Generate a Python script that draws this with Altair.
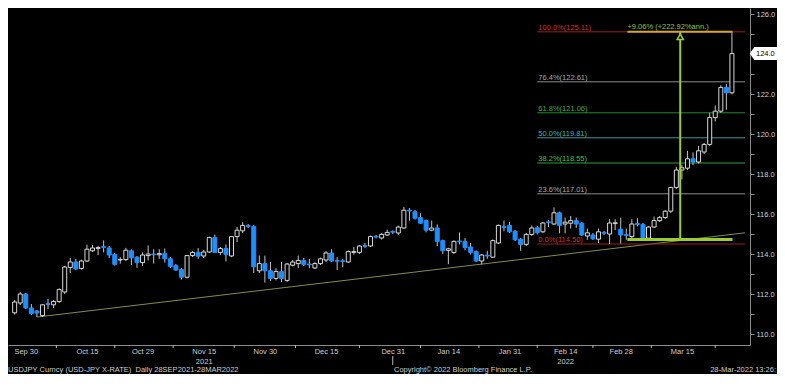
import altair as alt
import pandas as pd

# ---------------- data ----------------
opens = [111.06, 111.55, 112.00, 111.30, 111.15, 110.92, 111.52, 111.46, 111.62, 112.10,
         113.33, 113.60, 113.28, 113.65, 114.16, 114.28, 114.37, 114.30, 113.98, 113.70,
         113.72, 114.16, 113.84, 113.57, 113.92, 114.00, 113.96, 114.03, 113.76, 113.42,
         113.22, 112.84, 113.92, 114.08, 113.90, 114.10, 114.82, 114.08, 114.27, 113.90,
         114.87, 115.16, 115.42, 115.38, 113.16, 113.52, 113.16, 112.78, 113.12, 112.68,
         113.44, 113.52, 113.68, 113.50, 113.30, 113.52, 113.70, 114.05, 113.67, 113.66,
         113.60, 114.08, 114.08, 114.42, 114.40, 114.89, 114.80, 114.95, 115.13, 115.05,
         115.30, 116.19, 116.11, 115.82, 115.67, 115.19, 115.30, 114.67, 114.18, 114.08,
         114.65, 114.63, 114.35, 114.12, 113.65, 113.94, 113.84, 114.55, 115.37, 115.43,
         115.14, 114.74, 114.48, 114.98, 115.31, 115.11, 115.61, 115.50, 116.06, 115.50,
         115.54, 115.67, 115.54, 114.90, 114.95, 114.74, 115.08, 115.00, 115.52, 115.24,
         114.97, 114.87, 115.52, 115.48, 114.79, 115.35, 115.67, 115.82, 116.14, 117.33,
         118.20, 118.29, 118.76, 118.60, 119.10, 119.48, 120.82, 121.14, 122.33, 122.06]
highs = [111.70, 112.10, 112.05, 111.50, 111.20, 111.50, 111.75, 111.70, 112.28, 113.40,
         113.80, 113.75, 113.72, 114.47, 114.45, 114.40, 114.68, 114.40, 114.05, 113.84,
         114.31, 114.22, 113.90, 114.08, 114.43, 114.24, 114.24, 114.27, 113.85, 113.50,
         113.30, 113.95, 114.15, 114.30, 114.20, 114.87, 114.97, 114.35, 114.48, 114.90,
         115.35, 115.59, 115.50, 115.45, 113.92, 113.92, 113.60, 113.29, 113.60, 113.55,
         113.70, 113.92, 113.80, 113.76, 113.60, 113.82, 114.15, 114.24, 113.84, 113.76,
         114.18, 114.35, 114.45, 114.55, 114.92, 114.95, 115.05, 115.22, 115.18, 115.42,
         116.35, 116.30, 116.20, 116.03, 115.72, 115.67, 115.48, 114.72, 114.31, 114.68,
         115.08, 114.79, 114.55, 114.18, 114.00, 114.16, 114.72, 115.48, 115.67, 115.59,
         115.20, 114.80, 115.05, 115.43, 115.40, 115.60, 115.70, 116.33, 116.12, 115.82,
         115.90, 115.82, 115.60, 115.27, 115.05, 115.27, 115.15, 115.74, 115.74, 115.82,
         115.27, 115.74, 115.79, 115.55, 115.40, 115.87, 115.90, 116.20, 117.35, 118.36,
         118.44, 119.16, 119.08, 119.40, 119.55, 121.06, 121.43, 122.44, 122.49, 125.11]
lows = [110.97, 111.45, 111.25, 110.95, 110.85, 110.85, 111.25, 111.30, 111.55, 112.00,
        113.05, 113.20, 113.22, 113.60, 114.10, 113.95, 114.08, 113.80, 113.42, 113.52,
        113.65, 113.45, 113.31, 113.41, 113.68, 113.52, 113.76, 113.57, 113.30, 113.15,
        112.72, 112.78, 113.85, 113.76, 113.80, 114.05, 114.05, 113.95, 113.63, 113.84,
        114.60, 115.05, 115.30, 113.05, 113.05, 112.57, 112.65, 112.68, 112.60, 112.60,
        113.38, 113.29, 113.40, 113.29, 113.25, 113.45, 113.60, 113.60, 113.20, 113.33,
        113.55, 113.97, 114.00, 114.29, 114.35, 114.78, 114.72, 114.90, 115.00, 114.95,
        115.25, 115.67, 115.72, 115.50, 115.08, 115.14, 114.40, 114.00, 113.49, 114.00,
        114.48, 114.19, 113.97, 113.60, 113.48, 113.76, 113.80, 114.50, 115.14, 115.05,
        114.65, 114.16, 114.40, 114.90, 114.98, 115.05, 115.35, 115.45, 115.03, 115.03,
        115.27, 115.31, 114.90, 114.71, 114.70, 114.55, 114.95, 114.50, 115.19, 114.52,
        114.71, 114.80, 115.38, 114.70, 114.72, 115.30, 115.60, 115.75, 116.05, 117.25,
        117.73, 118.20, 118.44, 118.52, 119.00, 119.40, 120.63, 121.05, 121.22, 121.98]
closes = [111.60, 112.00, 111.30, 111.02, 111.05, 111.46, 111.48, 111.63, 112.22, 113.35,
          113.60, 113.25, 113.65, 114.24, 114.30, 114.32, 114.33, 113.95, 113.48, 113.73,
          114.19, 113.81, 113.57, 113.95, 114.00, 113.96, 114.02, 113.76, 113.38, 113.20,
          112.84, 113.92, 114.08, 113.89, 114.10, 114.82, 114.08, 114.27, 113.97, 114.87,
          115.19, 115.43, 115.38, 113.36, 113.52, 113.16, 112.78, 113.12, 112.78, 113.50,
          113.60, 113.68, 113.48, 113.46, 113.52, 113.76, 114.05, 113.65, 113.64, 113.63,
          114.12, 114.12, 114.40, 114.38, 114.87, 114.85, 114.98, 115.08, 115.09, 115.35,
          116.19, 116.15, 115.79, 115.54, 115.19, 115.30, 114.63, 114.16, 114.26, 114.63,
          114.61, 114.32, 114.08, 113.65, 113.95, 113.90, 114.67, 115.43, 115.33, 115.11,
          114.71, 114.48, 114.98, 115.30, 115.06, 115.55, 115.57, 116.06, 115.43, 115.59,
          115.67, 115.50, 114.95, 115.06, 114.76, 115.11, 115.04, 115.55, 115.56, 114.95,
          114.93, 115.50, 115.48, 114.79, 115.35, 115.67, 115.82, 116.14, 117.33, 118.20,
          118.31, 118.76, 118.60, 119.16, 119.48, 120.82, 121.14, 122.33, 122.06, 124.02]

first_day, last_day = "2021-09-28", "2022-03-28"
label_dates = ["2021-09-30", "2021-10-15", "2021-10-29", "2021-11-15", "2021-11-30", "2021-12-15",
               "2021-12-31", "2022-01-14", "2022-01-31", "2022-02-14", "2022-02-28", "2022-03-15"]
label_texts = ["Sep 30", "Oct 15", "Oct 29", "Nov 15", "Nov 30", "Dec 15",
               "Dec 31", "Jan 14", "Jan 31", "Feb 14", "Feb 28", "Mar 15"]
year_labels = {"Nov 15": "2021", "Feb 14": "2022"}
year_break_date = "2021-12-31"

fib_levels = [100.0, 76.4, 61.8, 50.0, 38.2, 23.6, 0.0]
fib_values = [125.11, 122.61, 121.06, 119.81, 118.55, 117.01, 114.50]
fib_start_date = "2022-02-07"

trend_x = [4.07, 131.35]
trend_v = [110.85, 115.06]

meas_low, meas_high = 114.72, 125.11
meas_text = "+9.06% (+222.92%ann.)"
meas_x = 119.7
meas_x0, meas_x1 = 110.2, 129.1

y_ticks = list(range(110, 127))

footer_left = "USDJPY Curncy (USD-JPY X-RATE)\u00a0\u00a0Daily 28SEP2021-28MAR2022"
footer_mid = "Copyright\u00a9 2022 Bloomberg Finance L.P."
footer_right = "28-Mar-2022 13:26:"

# ---------------- styles ----------------
FONT = "Liberation Sans"
FS = 7.5
W, H = 742, 337
PAD_R, PAD_B = 27, 29
X_DOM = [-0.3, 131.35]
Y_DOM = [109.45, 126.3]
BLUE = "#1e8fff"
UPLINE = "#d8d8d8"
LIME = "#9acd32"
AXC = "#8c8c8c"
TXT = "#cfcfcf"
fib_line_colors = ["#9e1b1b", "#8a8a8a", "#1f8a2a", "#3a9a9a", "#2f9e3a", "#8a8a8a", "#9e1b1b"]
fib_text_colors = ["#d23030", "#a8a8a8", "#35b040", "#45b0b0", "#45c050", "#a8a8a8", "#d23030"]

# ---------------- tables ----------------
days = list(pd.bdate_range(first_day, last_day))
n = len(opens)
df = pd.DataFrame({"i": list(range(n)), "open": opens, "high": highs, "low": lows, "close": closes})
df["dir"] = ["up" if c >= o else "down" for o, c in zip(opens, closes)]

label_pos = [days.index(pd.Timestamp(d)) for d in label_dates]
tick_pos = [(a + b) / 2 for a, b in zip(label_pos[:-1], label_pos[1:])] + [label_pos[-1] + 6]
year_break = days.index(pd.Timestamp(year_break_date))
fib_start = days.index(pd.Timestamp(fib_start_date))


def js_list(items):
    return "[" + ",".join(items) + "]"


arr = js_list([js_list(["'" + t + "'"] + (["'" + year_labels[t] + "'"] if t in year_labels else []))
               for t in label_texts])
x_label_expr = f"{arr}[indexof({js_list([str(p) for p in label_pos])}, datum.value)]"

xs = alt.Scale(domain=X_DOM, nice=False, zero=False)
ys = alt.Scale(domain=Y_DOM, nice=False, zero=False)

xax = alt.Axis(values=label_pos, labelExpr=x_label_expr, ticks=False, grid=False, title=None,
               domainColor=AXC, labelColor=TXT, labelFont=FONT, labelFontSize=FS, labelPadding=2,
               labelLineHeight=10, labelOverlap=False, labelBound=False)
yax = alt.Axis(orient="right", values=y_ticks,
               labelExpr="datum.value % 2 == 0 && datum.value != 124 ? format(datum.value, '.1f') : ''",
               tickSize=4, tickColor=AXC, domainColor=AXC, labelColor=TXT, labelFont=FONT,
               labelFontSize=FS, labelPadding=2, grid=False, title=None, labelOverlap=False)


def X(f):
    return alt.X(f, scale=xs, axis=xax)


def Y(f):
    return alt.Y(f, scale=ys, axis=yax)


layers = []

# trend line
layers.append(alt.Chart(pd.DataFrame({"x": trend_x, "v": trend_v})).mark_line(
    color="#7f8f45", strokeWidth=1).encode(x=X("x:Q"), y=Y("v:Q")))

# fibonacci levels
fib_df = pd.DataFrame({"lvl": fib_levels, "v": fib_values,
                       "label": [f"{l:.1f}%({v:.2f})" for l, v in zip(fib_levels, fib_values)],
                       "x0": [fib_start] * len(fib_levels), "x1": [X_DOM[1]] * len(fib_levels)})
for lvl, lc, tc in zip(fib_levels, fib_line_colors, fib_text_colors):
    sub = fib_df[fib_df["lvl"] == lvl]
    layers.append(alt.Chart(sub).mark_rule(color=lc, strokeWidth=1).encode(
        x=X("x0:Q"), x2="x1:Q", y=Y("v:Q")))
    layers.append(alt.Chart(sub).mark_text(align="left", baseline="bottom", dx=1, dy=0,
                                           color=tc, font=FONT, fontSize=FS).encode(
        x=X("x0:Q"), y=Y("v:Q"), text="label:N"))

# candles
base = alt.Chart(df)
layers.append(base.mark_rule(color="#c4c4c4", strokeWidth=1).encode(
    x=X("i:Q"), y=Y("low:Q"), y2="high:Q"))
layers.append(base.mark_bar(width=4, strokeWidth=1).encode(
    x=X("i:Q"), y=Y("open:Q"), y2="close:Q",
    fill=alt.Fill("dir:N", scale=alt.Scale(domain=["up", "down"], range=["#000000", BLUE]), legend=None),
    stroke=alt.Stroke("dir:N", scale=alt.Scale(domain=["up", "down"], range=[UPLINE, BLUE]), legend=None)))

# measurement tool
mdf = pd.DataFrame({"x": [meas_x], "x0": [meas_x0], "x1": [meas_x1],
                    "lo": [meas_low], "hi": [meas_high], "t": [meas_text]})
layers.append(alt.Chart(mdf).mark_rule(color=LIME, strokeWidth=2).encode(
    x=X("x:Q"), y=Y("lo:Q"), y2="hi:Q"))
layers.append(alt.Chart(mdf).mark_rule(color=LIME, strokeWidth=3).encode(
    x=X("x0:Q"), x2="x1:Q", y=Y("lo:Q")))
layers.append(alt.Chart(mdf).mark_rule(color="#d8a628", strokeWidth=2).encode(
    x=X("x0:Q"), x2="x1:Q", y=Y("hi:Q")))
layers.append(alt.Chart(mdf).mark_point(shape="triangle-up", filled=True, fill="#000000",
                                        stroke=LIME, strokeWidth=1.5, size=40, yOffset=5, opacity=1).encode(
    x=X("x:Q"), y=Y("hi:Q")))
layers.append(alt.Chart(mdf).mark_text(align="left", baseline="bottom", dy=-1, color="#8fc43a",
                                       font=FONT, fontSize=FS).encode(
    x=X("x0:Q"), y=Y("hi:Q"), text="t:N"))

# last price tag
tag = pd.DataFrame({"v": [closes[-1]], "t": [f"{closes[-1]:.1f}"]})
layers.append(alt.Chart(tag).mark_point(
    shape="M-1,0L-0.7,-0.42L1,-0.42L1,0.42L-0.7,0.42Z", filled=True, fill="#ffffff",
    stroke="#ffffff", size=680, opacity=1).encode(x=alt.value(W + 14), y=Y("v:Q")))
layers.append(alt.Chart(tag).mark_text(align="left", baseline="middle", color="#000000",
                                       font=FONT, fontSize=FS).encode(
    x=alt.value(W + 6), y=Y("v:Q"), text="t:N"))

# x ticks between labels and the year break mark
layers.append(alt.Chart(pd.DataFrame({"x": tick_pos})).mark_rule(color="#bbbbbb").encode(
    x=X("x:Q"), y=alt.value(H), y2=alt.value(H + 3)))
layers.append(alt.Chart(pd.DataFrame({"x": [year_break]})).mark_rule(color="#bbbbbb").encode(
    x=X("x:Q"), y=alt.value(H + 11), y2=alt.value(H + 20)))

# footer texts
fdf = pd.DataFrame({"l": [footer_left], "m": [footer_mid], "r": [footer_right]})
layers.append(alt.Chart(fdf).mark_text(align="left", baseline="middle", color=TXT, font=FONT, fontSize=FS)
              .encode(x=alt.value(0), y=alt.value(H + 25), text="l:N"))
layers.append(alt.Chart(fdf).mark_text(align="left", baseline="middle", color=TXT, font=FONT, fontSize=FS)
              .encode(x=alt.value(386), y=alt.value(H + 25), text="m:N"))
layers.append(alt.Chart(fdf).mark_text(align="right", baseline="middle", color=TXT, font=FONT, fontSize=FS)
              .encode(x=alt.value(W + PAD_R - 1), y=alt.value(H + 25), text="r:N"))

chart = alt.layer(*layers).properties(
    width=W, height=H,
    autosize=alt.AutoSizeParams(type="none"),
    padding={"left": 0, "top": 0, "right": PAD_R, "bottom": PAD_B},
).configure(background="#000000").configure_view(stroke=None)

chart.save("out.html", embed_options={"renderer": "svg", "actions": False})
